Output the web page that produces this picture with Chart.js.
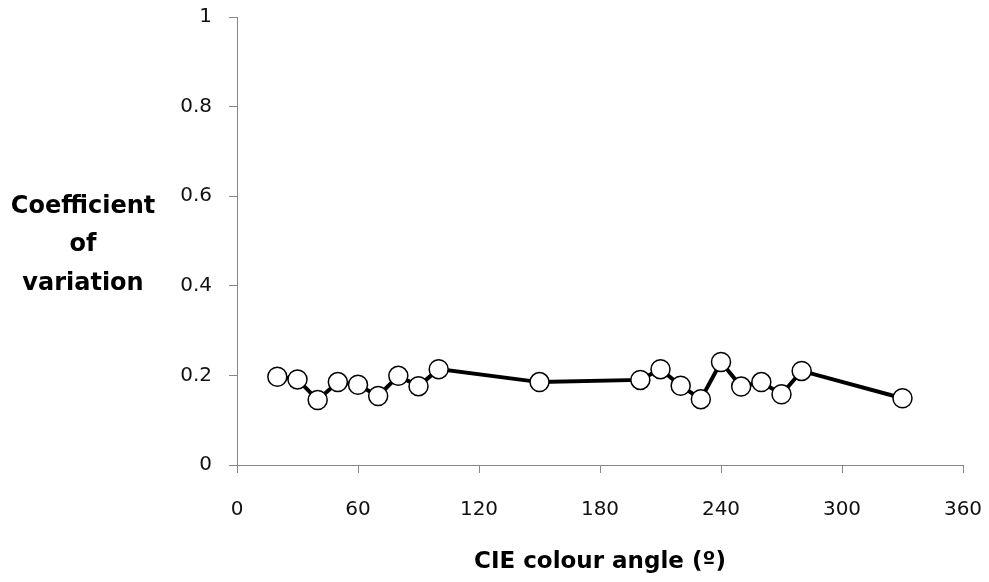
<!DOCTYPE html>
<html>
<head>
<meta charset="utf-8">
<style>
  html, body { margin: 0; padding: 0; background: #fff; }
  #wrap { width: 989px; height: 582px; }
</style>
<script src="https://cdn.jsdelivr.net/npm/chart.js@4.4.1/dist/chart.umd.min.js"></script>
</head>
<body>
<div id="wrap"><canvas id="myChart" width="989" height="582"></canvas></div>
<script>
  // CIE colour angle (degrees) and coefficient of variation
  const angles = [20, 30, 40, 50, 60, 70, 80, 90, 100, 150, 200, 210, 220, 230, 240, 250, 260, 270, 280, 330];
  const cv = [0.197, 0.191, 0.145, 0.185, 0.179, 0.154, 0.199, 0.176, 0.214, 0.185,
              0.190, 0.214, 0.177, 0.147, 0.230, 0.175, 0.185, 0.158, 0.210, 0.149];
  const xTicks = [0, 60, 120, 180, 240, 300, 360];
  const yTicks = [0, 0.2, 0.4, 0.6, 0.8, 1];
  const yTitle = ['Coefficient', 'of', 'variation'];
  const xTitle = 'CIE colour angle (\u00BA)';

  const axisGrey = '#878787';
  const font = '"DejaVu Sans"';

  // titles are plain horizontal text like the original, so draw them here
  const titles = {
    id: 'titles',
    afterDraw(chart) {
      const c = chart.ctx;
      const area = chart.chartArea;
      c.save();
      c.fillStyle = '#000';
      c.textAlign = 'center';
      c.textBaseline = 'alphabetic';
      c.font = 'bold 23px ' + font;
      c.fillText(xTitle, (area.left + area.right) / 2, 568);
      c.font = 'bold 24px ' + font;
      const baselines = [213, 251, 290];
      yTitle.forEach((t, i) => c.fillText(t, 83, baselines[i]));
      c.restore();
    }
  };

  const ctx = document.getElementById('myChart').getContext('2d');
  const myChart = new Chart(ctx, {
    type: 'scatter',
    data: {
      datasets: [{
        data: angles.map((a, i) => ({ x: a, y: cv[i] })),
        showLine: true,
        borderColor: '#000',
        borderWidth: 4,
        pointRadius: 9.5,
        pointHoverRadius: 9.5,
        pointBackgroundColor: '#fff',
        pointBorderColor: '#000',
        pointBorderWidth: 1.5
      }]
    },
    options: {
      responsive: false,
      animation: false,
      layout: { padding: { top: 17, right: 26, left: 0, bottom: 0 } },
      plugins: { legend: { display: false }, tooltip: { enabled: false } },
      scales: {
        x: {
          type: 'linear',
          min: 0,
          max: 360,
          afterBuildTicks(scale) { scale.ticks = xTicks.map(v => ({ value: v })); },
          afterFit(scale) { scale.height = 117; scale.paddingLeft = 0; scale.paddingRight = 0; },
          grid: { drawOnChartArea: false, drawTicks: true, tickLength: 8, color: axisGrey },
          border: { display: true, color: axisGrey, width: 1 },
          ticks: { color: '#111', font: { family: font, size: 20 }, padding: 25, maxRotation: 0 }
        },
        y: {
          type: 'linear',
          min: 0,
          max: 1,
          afterBuildTicks(scale) { scale.ticks = yTicks.map(v => ({ value: v })); },
          afterFit(scale) { scale.width = 237; scale.paddingTop = 0; scale.paddingBottom = 0; },
          grid: { drawOnChartArea: false, drawTicks: true, tickLength: 8, color: axisGrey },
          border: { display: true, color: axisGrey, width: 1 },
          ticks: { color: '#111', font: { family: font, size: 20 }, padding: 17, callback: v => String(v) }
        }
      }
    },
    plugins: [titles]
  });
</script>
</body>
</html>
